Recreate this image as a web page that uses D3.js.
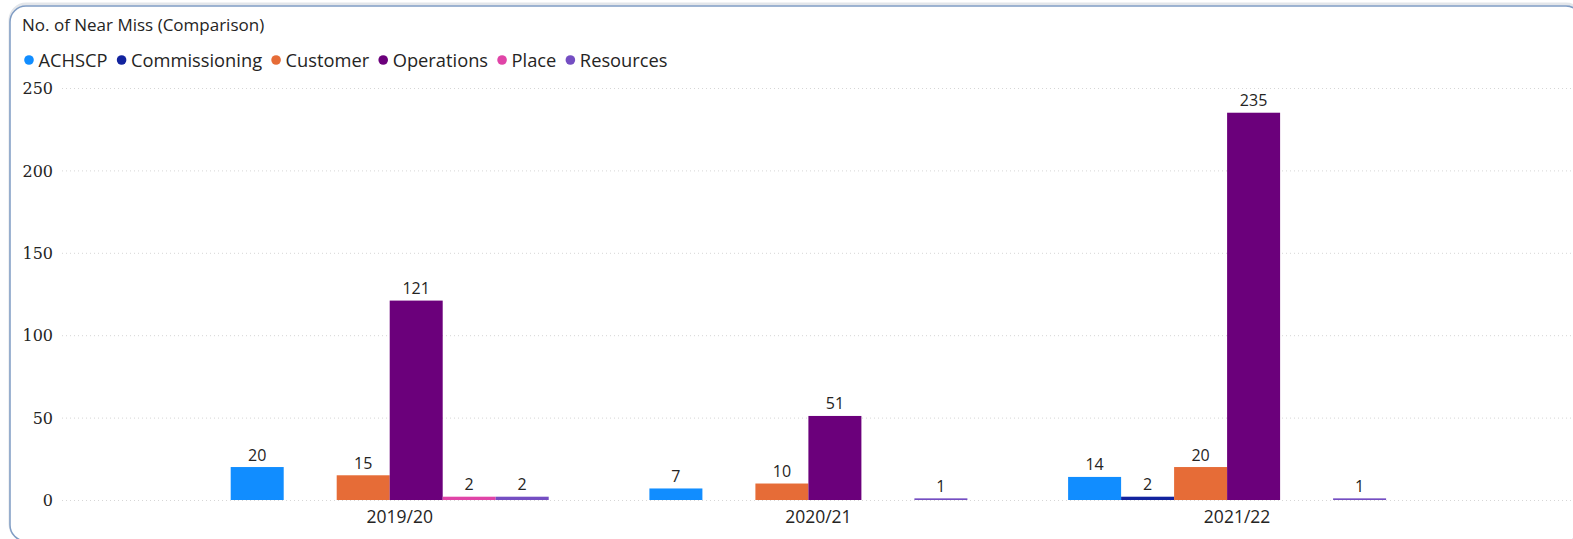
<!DOCTYPE html>
<html>
<head>
<meta charset="utf-8">
<script src="https://cdn.jsdelivr.net/npm/d3@7"></script>
<style>
  html, body { margin: 0; padding: 0; background: #ffffff; }
  svg { display: block; }
</style>
</head>
<body>
<svg id="chart" width="1573" height="539"></svg>
<script>
// ---- data ----
const categories = ["2019/20", "2020/21", "2021/22"];
const seriesNames = ["ACHSCP", "Commissioning", "Customer", "Operations", "Place", "Resources"];
const seriesColors = ["#118DFF", "#12239E", "#E66C37", "#6B007B", "#E044A7", "#744EC2"];
const achscp        = [20, 7, 14];
const commissioning = [null, null, 2];
const customer      = [15, 10, 20];
const operations    = [121, 51, 235];
const place         = [2, null, null];
const resources     = [2, 1, 1];
const yTicks = [0, 50, 100, 150, 200, 250];
const titleText = "No. of Near Miss (Comparison)";

const seriesValues = [achscp, commissioning, customer, operations, place, resources];

// ---- layout ----
const W = 1573, H = 539;
const svg = d3.select("#chart");
const textColor = "#252423";
const sansFont = "'Segoe UI', 'Open Sans', sans-serif";

// card border
svg.append("rect")
  .attr("x", 10).attr("y", 5)
  .attr("width", 1572).attr("height", 536)
  .attr("rx", 16).attr("ry", 16)
  .attr("fill", "none")
  .attr("stroke", "#e3e6ea").attr("stroke-width", 3)
  .attr("transform", "translate(0,-1)");
svg.append("rect")
  .attr("x", 10).attr("y", 6)
  .attr("width", 1572).attr("height", 535)
  .attr("rx", 16).attr("ry", 16)
  .attr("fill", "#ffffff")
  .attr("stroke", "#7f9cc4").attr("stroke-width", 1.5);

// title
svg.append("text")
  .attr("x", 22).attr("y", 31)
  .attr("font-family", sansFont)
  .attr("font-size", 17)
  .attr("fill", textColor)
  .text(titleText);

// legend
const legend = svg.append("g").attr("transform", "translate(0,60)");
let lx = 29;
seriesNames.forEach((name, i) => {
  legend.append("circle")
    .attr("cx", lx).attr("cy", 0).attr("r", 4.8)
    .attr("fill", seriesColors[i]);
  const t = legend.append("text")
    .attr("x", lx + 9.5).attr("y", 6.5)
    .attr("font-family", sansFont)
    .attr("font-size", 18.3)
    .attr("fill", textColor)
    .text(name);
  lx += 9.5 + t.node().getComputedTextLength() + 14;
});

// scales
const plotLeft = 62, plotRight = W;
const y = d3.scaleLinear().domain([0, 250]).range([500, 88]);
const step = 418.7, groupW = 318;
const x0 = d3.scaleBand()
  .domain(categories)
  .range([180.35, 180.35 + 3 * step])
  .paddingInner((step - groupW) / step)
  .paddingOuter((step - groupW) / step / 2);
const x1 = d3.scaleBand()
  .domain(seriesNames)
  .range([0, x0.bandwidth()])
  .padding(0);

// gridlines
const grid = svg.append("g");
grid.selectAll("line")
  .data(yTicks)
  .join("line")
  .attr("x1", plotLeft).attr("x2", plotRight)
  .attr("y1", d => y(d) + 0.5).attr("y2", d => y(d) + 0.5)
  .attr("stroke", "#d6d6d6")
  .attr("stroke-width", 1)
  .attr("stroke-dasharray", "1,3");

// y axis labels
const yAxis = d3.axisLeft(y).tickValues(yTicks).tickSize(0).tickPadding(0);
const yg = svg.append("g").attr("transform", "translate(53,0)").call(yAxis);
yg.select(".domain").remove();
yg.selectAll("text")
  .attr("font-family", "'DejaVu Serif', serif")
  .attr("font-size", 16)
  .attr("fill", textColor)
  .attr("dy", "0.36em");

// x axis labels
const xAxis = d3.axisBottom(x0).tickSize(0).tickPadding(0);
const xg = svg.append("g").attr("transform", `translate(10,${y(0)})`).call(xAxis);
xg.select(".domain").remove();
xg.selectAll("text")
  .attr("font-family", sansFont)
  .attr("font-size", 17.5)
  .attr("fill", textColor)
  .attr("y", 0)
  .attr("dy", 23);

// bars
const barData = [];
categories.forEach((c, ci) => {
  seriesNames.forEach((s, si) => {
    const v = seriesValues[si][ci];
    if (v !== null && v !== undefined) {
      barData.push({ cat: c, series: s, value: v, color: seriesColors[si] });
    }
  });
});

const bars = svg.append("g");
bars.selectAll("rect")
  .data(barData)
  .join("rect")
  .attr("x", d => x0(d.cat) + x1(d.series))
  .attr("y", d => y(d.value))
  .attr("width", x1.bandwidth())
  .attr("height", d => y(0) - y(d.value))
  .attr("fill", d => d.color);

// data labels
bars.selectAll("text")
  .data(barData)
  .join("text")
  .attr("x", d => x0(d.cat) + x1(d.series) + x1.bandwidth() / 2)
  .attr("y", d => y(d.value) - 6.5)
  .attr("text-anchor", "middle")
  .attr("font-family", sansFont)
  .attr("font-size", 16)
  .attr("fill", textColor)
  .text(d => d.value);
</script>
</body>
</html>
